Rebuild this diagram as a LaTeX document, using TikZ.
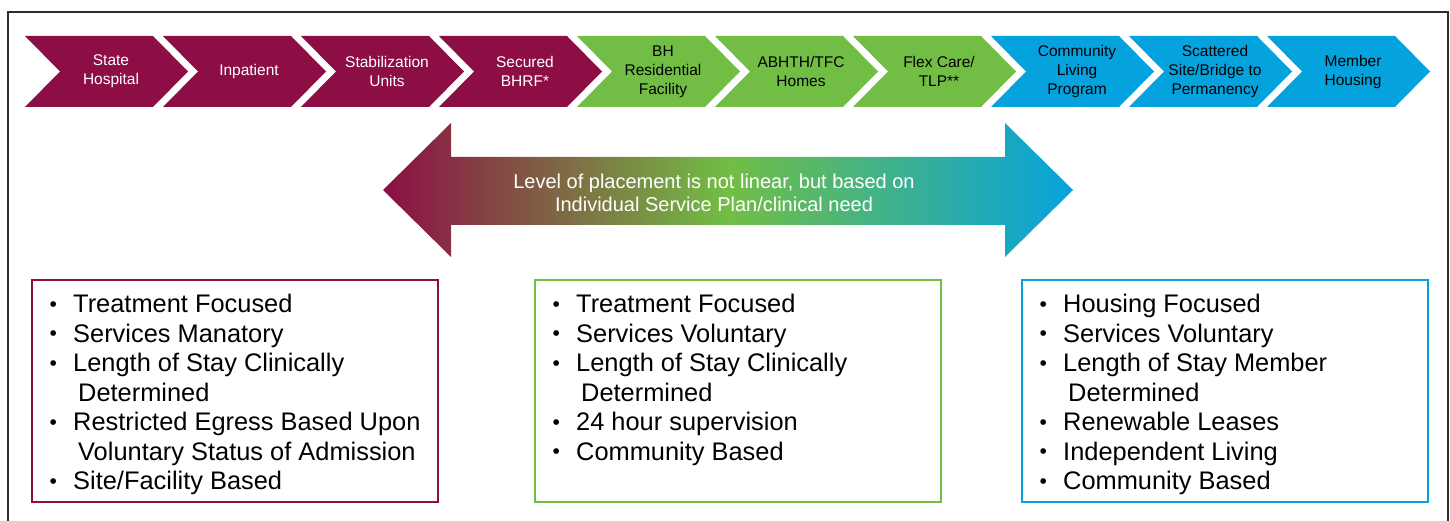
\documentclass[tikz,border=0pt]{standalone}
\usepackage{fontspec}
\setmainfont{Liberation Sans}

\definecolor{hosp}{RGB}{140,14,68}
\definecolor{resi}{RGB}{114,190,68}
\definecolor{comm}{RGB}{5,163,222}
\definecolor{framegray}{RGB}{45,45,45}

\newcommand{\pitem}{\makebox[25pt][l]{\hspace*{1.5pt}\raisebox{1.5pt}{\fontsize{21}{21}\selectfont\textbullet}}}
\newcommand{\pcont}{\hspace*{30pt}}

\begin{document}
\begin{tikzpicture}[x=1pt, y=-1pt,
		steptext/.style={align=center, inner sep=0pt, font=\fontsize{15.5}{19}\selectfont},
		bulletbox/.style={draw, line width=2.5pt, anchor=north west, outer sep=0pt, inner sep=0pt, minimum width=406pt, minimum height=222pt},
		bulletlist/.style={align=left, anchor=north west, inner sep=0pt, font=\fontsize{25.4}{29.5}\selectfont}]
				\useasboundingbox (0,0) rectangle (1450,521);
				
				% 1. 外框 (底边在页面之外)
				\draw[framegray, line width=2.5pt] (8,523) -- (8,12) -- (1448,12) -- (1448,523);
				
				% 2. 顶部十段箭头
				\foreach \i/\lbl/\fc/\tc in {0/{State\\Hospital}/hosp/white, 1/Inpatient/hosp/white,
						2/{Stabilization\\Units}/hosp/white, 3/{Secured\\BHRF*}/hosp/white,
						4/{BH\\Residential\\Facility}/resi/black, 5/{ABHTH/TFC\\Homes}/resi/black,
						6/{Flex Care/\\TLP**}/resi/black, 7/{Community\\Living\\Program}/comm/black,
						8/{Scattered\\Site/Bridge to\\Permanency}/comm/black, 9/{Member\\Housing}/comm/black} {
					\fill[\fc] (25+138*\i,36) -- ++(128,0) -- ++(35,35.5) -- ++(-35,35.5) -- ++(-128,0) -- ++(35,-35.5) -- cycle;
					\node[steptext, text=\tc] (step\i) at (25+138*\i+86,71.5) {\lbl};
				}
				
				% 3. 渐变双向箭头 (middle color 要放在最后)
				\shade[left color=hosp, right color=comm, middle color=resi]
					(383,190) -- (451,123) -- (451,157) -- (1005,157) -- (1005,123) -- (1073,190)
					-- (1005,257) -- (1005,225) -- (451,225) -- (451,257) -- cycle;
				\node[align=center, text=white, font=\fontsize{20}{23}\selectfont] (level) at (714,192.5)
					{Level of placement is not linear, but based on\\Individual Service Plan/clinical need};
				
				% 4. 底部三个说明框
				\node[bulletbox, draw=hosp] (lbox) at (32,280) {};
				\node[bulletbox, draw=resi] (mbox) at (535,280) {};
				\node[bulletbox, draw=comm] (rbox) at (1022,280) {};
				
				\node[bulletlist] (llist) at ([shift={(16,14)}]lbox.north west)
					{\pitem Treatment Focused\\ \pitem Services Manatory\\ \pitem Length of Stay Clinically\\ \pcont Determined\\
					 \pitem Restricted Egress Based Upon\\ \pcont Voluntary Status of Admission\\ \pitem Site/Facility Based};
				\node[bulletlist] (mlist) at ([shift={(16,14)}]mbox.north west)
					{\pitem Treatment Focused\\ \pitem Services Voluntary\\ \pitem Length of Stay Clinically\\ \pcont Determined\\
					 \pitem 24 hour supervision\\ \pitem Community Based};
				\node[bulletlist] (rlist) at ([shift={(16,14)}]rbox.north west)
					{\pitem Housing Focused\\ \pitem Services Voluntary\\ \pitem Length of Stay Member\\ \pcont Determined\\
					 \pitem Renewable Leases\\ \pitem Independent Living\\ \pitem Community Based};
			\end{tikzpicture}
\end{document}
